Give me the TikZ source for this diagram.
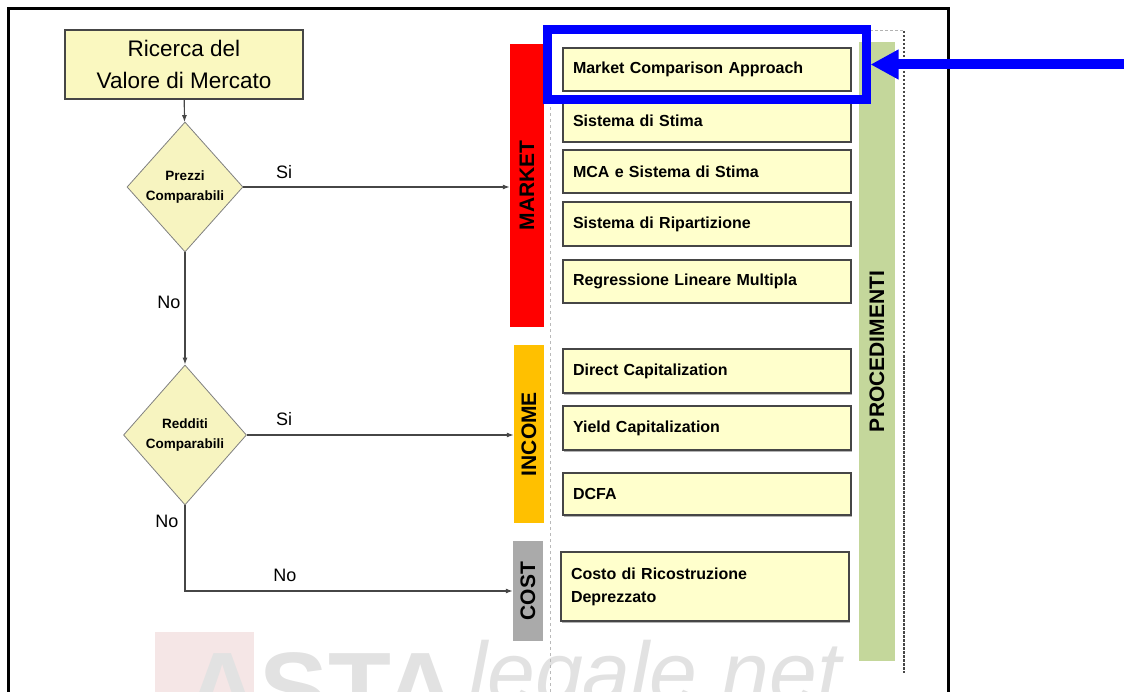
\documentclass[tikz,border=0pt]{standalone}
\usepackage{fontspec}
\setmainfont{Liberation Sans}
\usetikzlibrary{shapes.geometric,arrows.meta,shadows}

\definecolor{boxfill}{RGB}{255,255,204}
\definecolor{startfill}{RGB}{250,248,192}
\definecolor{diafill}{RGB}{247,244,192}
\definecolor{marketred}{RGB}{255,0,0}
\definecolor{incomeorange}{RGB}{255,192,0}
\definecolor{costgray}{RGB}{170,170,170}
\definecolor{procgreen}{RGB}{196,215,155}
\definecolor{linegray}{RGB}{70,70,70}
\definecolor{wmgray}{RGB}{226,226,226}
\definecolor{wmred}{RGB}{245,230,230}

\tikzset{
  boxshadow/.style={drop shadow={shadow xshift=1.2pt,shadow yshift=-1.5pt,fill=black!50,opacity=0.6}},
  startbox/.style={draw=linegray, line width=1.5pt, fill=startfill, boxshadow,
    minimum width=238pt, minimum height=69pt, align=center,
    font=\fontsize{22.5}{32}\selectfont},
  choice/.style={diamond, draw=gray, line width=0.8pt, fill=diafill, inner sep=0pt,
    align=center, font=\bfseries\fontsize{13.5}{20}\selectfont},
  method/.style={draw=linegray, line width=1.2pt, fill=boxfill, boxshadow,
    text width=268pt, inner xsep=10pt, inner ysep=0pt, align=left,
    minimum height=#1, font=\bfseries\fontsize{16}{23}\selectfont},
  bar/.style={fill=#1, inner sep=0pt},
  barlabel/.style={rotate=90, inner sep=0pt, font=\bfseries\fontsize{21}{21}\selectfont},
  flow/.style={draw=linegray, line width=1.2pt, -{Latex[length=7pt,width=5pt]}},
  yesno/.style={inner sep=0pt, font=\fontsize{18}{18}\selectfont}
}

\begin{document}
\begin{tikzpicture}[x=1pt,y=-1pt]
  \useasboundingbox (0,0) rectangle (1124,692);

  \begin{scope}
    \clip (0,0) rectangle (1124,692);
    % watermark
    \fill[wmred] (155,632) rectangle (254,700);
    \node[anchor=base west, inner sep=0pt, text=wmgray,
      font=\bfseries\fontsize{103}{103}\selectfont] (wmasta) at (185,724) {ASTA};
    \node[anchor=base west, inner sep=0pt, text=wmgray,
      font=\itshape\fontsize{86}{86}\selectfont] (wmnet) at (468,702) {legale.net};
    % frame
    \draw[line width=3pt] (8.5,700) -- (8.5,8.5) -- (948.5,8.5) -- (948.5,700);
  \end{scope}

  % dashed outline of the right column
  \draw[gray!55, line width=0.8pt, dash pattern=on 3pt off 3pt] (550,692) -- (550,31);
  \draw[gray!60, line width=1pt, dash pattern=on 3pt off 2pt] (550,31) -- (904,31);
  \draw[linegray, line width=1.3pt, dash pattern=on 2.5pt off 1.5pt] (904,31) -- (904,673);

  % flow chart
  \node[startbox] (start) at (184,64.5) {Ricerca del\\Valore di Mercato};
  \node[choice, minimum width=116pt, minimum height=130pt] (prezzi) at (185,187) {Prezzi\\Comparabili};
  \node[choice, minimum width=123pt, minimum height=140pt] (redditi) at (185,435) {Redditi\\Comparabili};

  % approaches
  \node[bar=marketred, minimum width=34pt, minimum height=283pt] (market) at (527,185.5) {};
  \node[bar=incomeorange, minimum width=30pt, minimum height=178pt] (income) at (529,434) {};
  \node[bar=costgray, minimum width=30pt, minimum height=100pt] (cost) at (528,591) {};
  \node[barlabel] (marketlbl) at (market.center) {MARKET};
  \node[barlabel] (incomelbl) at (income.center) {INCOME};
  \node[barlabel] (costlbl) at (cost.center) {COST};

  \node[bar=procgreen, minimum width=36pt, minimum height=619pt] (proc) at (877,351.5) {};
  \node[barlabel] (proclbl) at (proc.center) {PROCEDIMENTI};

  % procedures
  \node[method=43pt] (mca) at (707,69.5) {Market Comparison Approach};
  \node[method=42pt] (stima) at (707,121) {Sistema di Stima};
  \node[method=43pt] (mcastima) at (707,171.5) {MCA e Sistema di Stima};
  \node[method=44pt] (ripart) at (707,224) {Sistema di Ripartizione};
  \node[method=43pt] (regr) at (707,281.5) {Regressione Lineare Multipla};
  \node[method=44pt] (direct) at (707,371) {Direct Capitalization};
  \node[method=44pt] (yield) at (707,428) {Yield Capitalization};
  \node[method=42pt] (dcfa) at (707,494) {DCFA};
  \node[method=69pt] (costo) at (705,586.5) {Costo di Ricostruzione\\Deprezzato};

  % connectors
  \draw[flow] (start) -- (prezzi);
  \draw[flow] (prezzi.east) -- (prezzi.east -| market.west);
  \draw[flow] (prezzi) -- (redditi);
  \draw[flow] (redditi.east) -- (redditi.east -| income.west);
  \draw[flow] (redditi.south) |- (cost.west);

  \node[yesno] (si1) at (284,172) {Si};
  \node[yesno] (no1) at (169,302) {No};
  \node[yesno] (si2) at (284,419) {Si};
  \node[yesno] (no2) at (167,521) {No};
  \node[yesno] (no3) at (285,575) {No};

  % highlight
  \node[draw=blue, line width=9pt, minimum width=318.5pt, minimum height=70pt] (hl) at (706.75,64.5) {};
  \coordinate (arrowstart) at (1130,64.5);
  \draw[blue, line width=10pt, -{Triangle[length=28pt,width=28pt]}] (arrowstart) -- (hl.east);
\end{tikzpicture}
\end{document}
